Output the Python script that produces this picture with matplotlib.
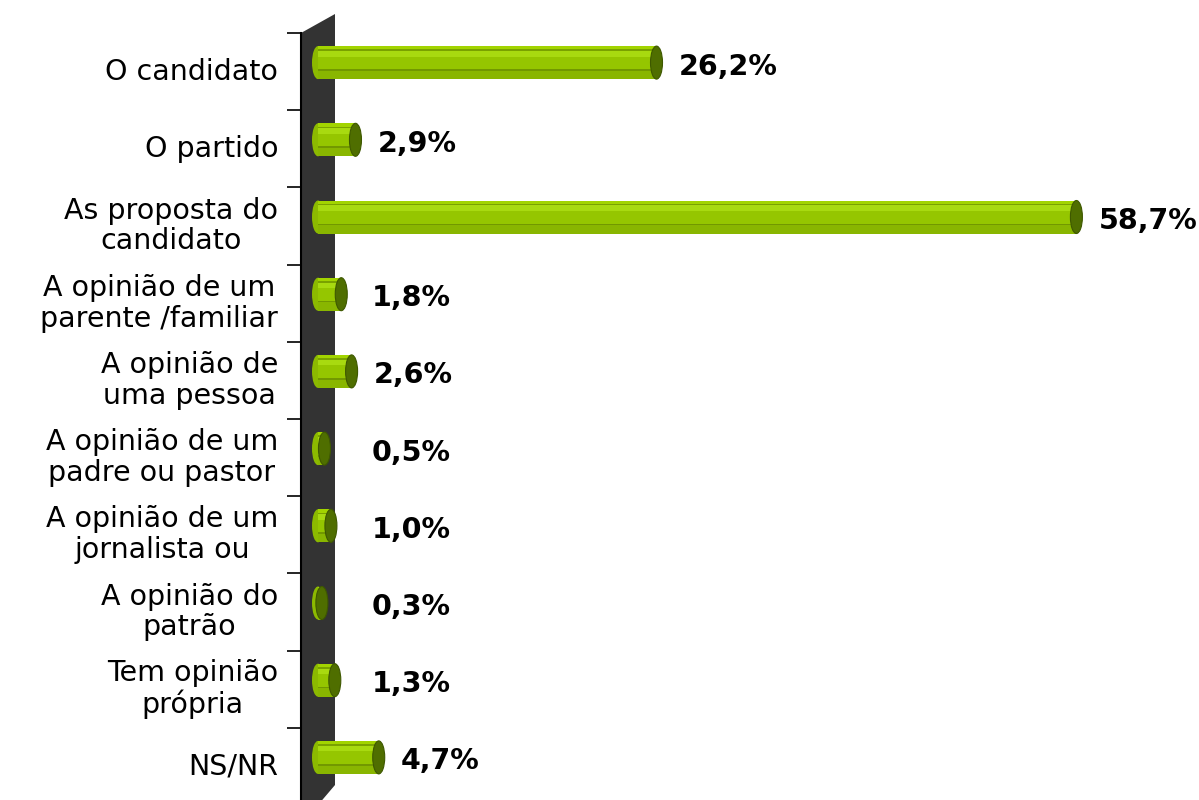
import matplotlib
matplotlib.use("Agg")
import matplotlib.pyplot as plt
from matplotlib.patches import Ellipse, Polygon

categories = [
    "O candidato",
    "O partido",
    "As proposta do\ncandidato",
    "A opinião de um\nparente /familiar",
    "A opinião de\numa pessoa",
    "A opinião de um\npadre ou pastor",
    "A opinião de um\njornalista ou",
    "A opinião do\npatrão",
    "Tem opinião\nprópria",
    "NS/NR",
]
values = [26.2, 2.9, 58.7, 1.8, 2.6, 0.5, 1.0, 0.3, 1.3, 4.7]
value_labels = ["26,2%", "2,9%", "58,7%", "1,8%", "2,6%", "0,5%", "1,0%", "0,3%", "1,3%", "4,7%"]

W, H = 1199, 800
fig = plt.figure(figsize=(W / 100, H / 100), dpi=100)
# axes: left edge at wall front, top at first tick, bottom beyond the figure
ax_left, ax_right, ax_top, ax_bot = 301, 1199, 33, 805
ax = fig.add_axes([ax_left / W, 1 - ax_bot / H, (ax_right - ax_left) / W, (ax_bot - ax_top) / H])

px_per_unit = 12.92            # pixels per percent
zero_px = 318
xmin = -(zero_px - ax_left) / px_per_unit
xmax = (ax_right - zero_px) / px_per_unit
ax.set_xlim(xmin, xmax)
n = len(categories)
ax.set_ylim(n - 0.5, -0.5)
band_px = (ax_bot - ax_top) / n

def px_x(p):
    return p / px_per_unit

def px_y(p):
    return p / band_px

# 3D wall
depth_x = px_x(34)
depth_y = px_y(19)
wall = Polygon([(xmin, -0.5), (xmin + depth_x, -0.5 - depth_y),
                (xmin + depth_x, n - 0.5 - depth_y + px_y(-1)), (xmin, n - 0.5 + px_y(20))],
               closed=True, facecolor="#333333", edgecolor="none", clip_on=False, zorder=1)
ax.add_patch(wall)

# spines / ticks
for s in ["top", "right", "bottom"]:
    ax.spines[s].set_visible(False)
ax.spines["left"].set_color("black")
ax.spines["left"].set_linewidth(1.5)
ax.spines["left"].set_zorder(2)
ax.set_xticks([])
ax.set_yticks([i - 0.5 for i in range(n + 1)])
ax.set_yticklabels([])
ax.tick_params(axis="y", length=10, width=1.2, color="black", direction="out")

# category labels
for i, c in enumerate(categories):
    ax.annotate(c, xy=(0, i), xycoords=("axes fraction", "data"),
                xytext=(-16.5, 0), textcoords="offset points",
                ha="right", va="center", multialignment="center",
                fontsize=20.5, family="DejaVu Sans", color="black", linespacing=1.13)

# cylinder bars
bar_h = px_y(33)
cap_w = px_x(12)
bar_shift = px_y(-9)
stripes = [  # (start fraction from top, height fraction, color)
    (0.00, 1.00, "#8cba00"),
    (0.00, 0.10, "#a2d400"),
    (0.10, 0.05, "#7aa200"),
    (0.15, 0.17, "#a8da10"),
    (0.32, 0.38, "#95c600"),
    (0.70, 0.05, "#729800"),
    (0.75, 0.25, "#89b600"),
]
label_min_x = px_x(54)
for i, v in enumerate(values):
    yc = i + bar_shift
    top = yc - bar_h / 2
    # left rounded end
    ax.add_patch(Ellipse((0, yc), cap_w, bar_h, facecolor="#8cba00", edgecolor="none", zorder=3))
    for f0, fh, col in stripes:
        ax.barh(top + (f0 + fh / 2) * bar_h, v, height=fh * bar_h, left=0,
                color=col, edgecolor="none", zorder=3)
    ax.add_patch(Ellipse((v, yc), cap_w, bar_h, facecolor="#4f6e00",
                         edgecolor="#3e5800", linewidth=0.8, zorder=4))
    lx = max(v + px_x(22), label_min_x)
    ax.text(lx, yc + px_y(4), value_labels[i], ha="left", va="center",
            fontsize=20.5, fontweight="bold", family="DejaVu Sans", color="black", zorder=5)

fig.savefig("out.png", dpi=100)
